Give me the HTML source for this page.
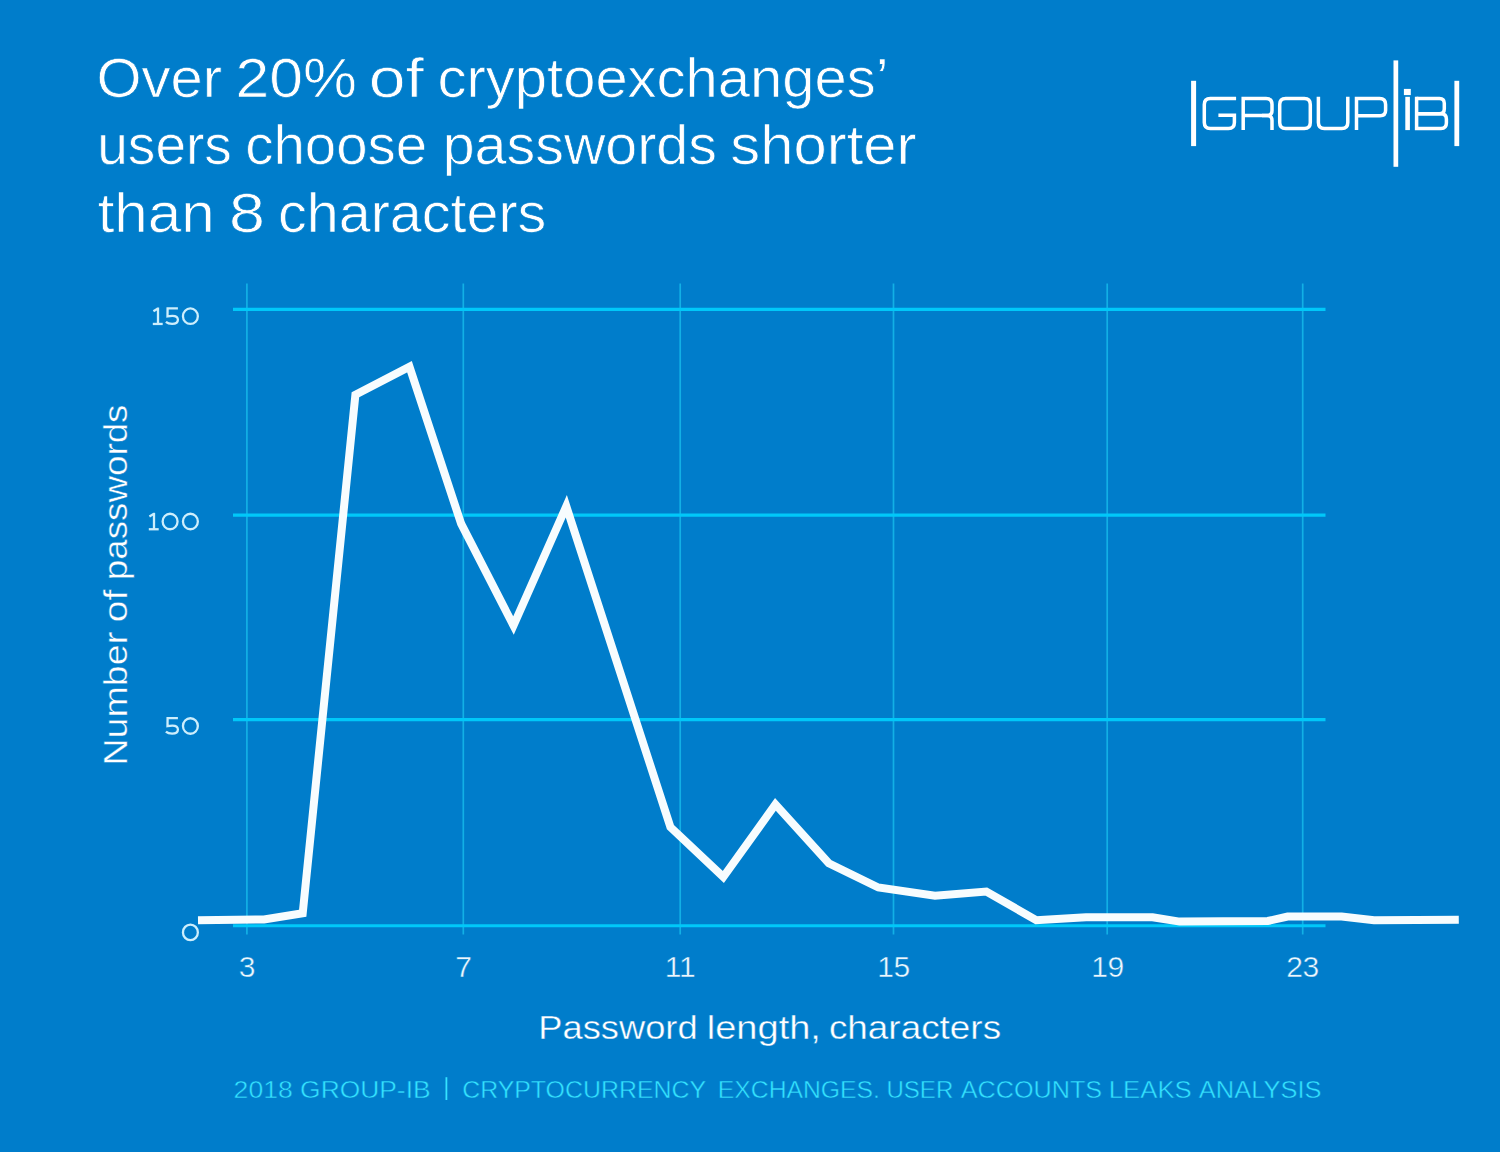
<!DOCTYPE html>
<html>
<head>
<meta charset="utf-8">
<title>Password length chart</title>
<style>
html,body{margin:0;padding:0;background:#007dcb;}
body{width:1500px;height:1152px;overflow:hidden;font-family:"Liberation Sans",sans-serif;}
svg{display:block;position:absolute;left:0;top:0;}
text{font-family:"Liberation Sans",sans-serif;}
</style>
</head>
<body>
<svg width="1500" height="1152" viewBox="0 0 1500 1152">
<rect x="0" y="0" width="1500" height="1152" fill="#007dcb"/>

<!-- TITLE -->
<g id="title" fill="#ffffff" font-size="55" stroke="#007dcb" stroke-width="0.7">
<text x="96.54" y="96.94999999999999" textLength="125.54" lengthAdjust="spacingAndGlyphs">Over</text>
<text x="235.44" y="96.94999999999999" textLength="121.41" lengthAdjust="spacingAndGlyphs">20%</text>
<text x="368.85" y="96.94999999999999" textLength="55.04" lengthAdjust="spacingAndGlyphs">of</text>
<text x="437.54" y="96.94999999999999" textLength="451.1" lengthAdjust="spacingAndGlyphs">cryptoexchanges’</text>
<text x="97.25" y="163.85" textLength="134.6" lengthAdjust="spacingAndGlyphs">users</text>
<text x="245.2" y="163.85" textLength="181.98" lengthAdjust="spacingAndGlyphs">choose</text>
<text x="442.72" y="163.85" textLength="274.19" lengthAdjust="spacingAndGlyphs">passwords</text>
<text x="730.36" y="163.85" textLength="186.13" lengthAdjust="spacingAndGlyphs">shorter</text>
<text x="97.65" y="231.65" textLength="117.13" lengthAdjust="spacingAndGlyphs">than</text>
<text x="229.1" y="231.65" textLength="35.91" lengthAdjust="spacingAndGlyphs">8</text>
<text x="277.96" y="231.65" textLength="268.36" lengthAdjust="spacingAndGlyphs">characters</text>
</g>

<!-- LOGO -->
<g id="logo">
<g fill="#ffffff">
<rect x="1191.1" y="80.8" width="5" height="65.3"/>
<rect x="1393.5" y="60.4" width="4.7" height="106.4"/>
<rect x="1454.4" y="80.8" width="4.8" height="65.3"/>
<rect x="1405.3" y="96.8" width="4.6" height="33.3"/>
<rect x="1403.9" y="88.9" width="6.9" height="6.2"/>
</g>
<g fill="none" stroke="#ffffff" stroke-width="3.5" stroke-linejoin="miter">
<path d="M1236.1,98.5 H1210.3 Q1204.3,98.5 1204.3,104.5 V122.4 Q1204.3,128.4 1210.3,128.4 H1228.4 Q1234.4,128.4 1234.4,122.4 V115.2 H1218.4"/>
<path d="M1243.2,130.1 V98.5 H1266 Q1272,98.5 1272,104.5 V110.6 Q1272,115.6 1267,115.6 H1243.2"/>
<path d="M1262,115.6 H1267 Q1272,115.6 1272,120.6 V130.1"/>
<path d="M1285.7,98.5 H1304.3 Q1310.3,98.5 1310.3,104.5 V122.4 Q1310.3,128.4 1304.3,128.4 H1285.7 Q1279.7,128.4 1279.7,122.4 V104.5 Q1279.7,98.5 1285.7,98.5 Z"/>
<path d="M1318.4,96.8 V122.4 Q1318.4,128.4 1324.4,128.4 H1341.8 Q1347.8,128.4 1347.8,122.4 V96.8"/>
<path d="M1356.5,130.1 V98.5 H1379.6 Q1385.6,98.5 1385.6,104.5 V110.2 Q1385.6,115.7 1380.1,115.7 H1356.5"/>
<path d="M1416.6,98.5 H1439.5 Q1444.3,98.5 1444.3,103.3 V108.9 Q1444.3,113.7 1439.5,113.7 H1416.6"/>
<path d="M1416.6,113.7 H1441 Q1446.4,113.7 1446.4,119.1 V123 Q1446.4,128.4 1441,128.4 H1416.6 V96.75"/>
</g>
</g>

<!-- GRID -->
<g id="grid">
<g stroke="#12b0e5" stroke-width="1.7">
<line x1="246.9" y1="283.4" x2="246.9" y2="934.6"/>
<line x1="463.3" y1="283.4" x2="463.3" y2="934.6"/>
<line x1="680.2" y1="283.4" x2="680.2" y2="934.6"/>
<line x1="893.5" y1="283.4" x2="893.5" y2="934.6"/>
<line x1="1107.2" y1="283.4" x2="1107.2" y2="934.6"/>
<line x1="1302.7" y1="283.4" x2="1302.7" y2="934.6"/>
</g>
<g stroke="#00c8f9" stroke-width="3.1">
<line x1="233" y1="309.4" x2="1325.5" y2="309.4"/>
<line x1="233" y1="515.1" x2="1325.5" y2="515.1"/>
<line x1="233" y1="719.6" x2="1325.5" y2="719.6"/>
<line x1="233" y1="925.8" x2="1325.5" y2="925.8"/>
</g>
</g>

<!-- DATA LINE -->
<polyline id="data" fill="none" stroke="#f7fcfe" stroke-width="8" stroke-linejoin="miter" stroke-miterlimit="10"
points="198,920.2 264,919.4 302.7,913.3 355.4,394.8 409.5,366.7 461.1,523.7 513.5,625.6 566.3,506.3 670.4,827.1 723.3,877 775.4,804.4 828.8,863.3 878.3,887.5 935,895.8 986.3,891.6 1036.3,920.2 1086,917.3 1152.6,917.3 1179.6,921.6 1267.8,921 1287.6,916.6 1341.6,916.6 1374,920.3 1458.8,919.7"/>

<!-- Y TICK LABELS -->
<defs>
<g id="d0"><ellipse cx="8.5" cy="8.8" rx="7.45" ry="7.75"/></g>
<g id="d1"><path d="M5.2,0.1 V16.55"/><path d="M0.6,3.9 L4.8,1.3"/><path d="M0,16.55 H9.9"/></g>
<g id="d5"><path d="M12.3,1.0 H2.0 L1.9,8.9 C3.6,8.5 5.1,8.4 6.8,8.4 C10.2,8.4 12.3,10.1 12.3,12.4 C12.3,14.9 10,16.5 6.5,16.5 C3.8,16.5 1.7,15.7 0.3,14.4"/></g>
</defs>
<g id="yticks" fill="none" stroke="#cdeefc" stroke-width="2.3">
<use href="#d1" x="152.8" y="307.4"/><use href="#d5" x="165.6" y="307.4"/><use href="#d0" x="181.9" y="307.4"/>
<use href="#d1" x="148.8" y="512.7"/><use href="#d0" x="161.6" y="512.7"/><use href="#d0" x="181.9" y="512.7"/>
<use href="#d5" x="165.6" y="717.2"/><use href="#d0" x="181.9" y="717.2"/>
<use href="#d0" x="181.9" y="923.6"/>
</g>

<!-- X TICK LABELS -->
<g id="xticks" fill="#ecf8fe" font-size="30" text-anchor="middle" stroke="#007dcb" stroke-width="0.45" letter-spacing="-0.4">
<text x="246.8" y="976.8">3</text>
<text x="463.3" y="976.8">7</text>
<text x="680" y="976.8">11</text>
<text x="893.5" y="976.8">15</text>
<text x="1107.5" y="976.8">19</text>
<text x="1302.5" y="976.8">23</text>
</g>

<!-- AXIS TITLES -->
<g id="xtitle" fill="#ffffff" font-size="34" stroke="#007dcb" stroke-width="0.4">
<text x="538.26" y="1038.7" textLength="159.37" lengthAdjust="spacingAndGlyphs">Password</text>
<text x="706.76" y="1038.7" textLength="114.17" lengthAdjust="spacingAndGlyphs">length,</text>
<text x="828.92" y="1038.7" textLength="172.17" lengthAdjust="spacingAndGlyphs">characters</text>
</g>
<g id="ytitle" fill="#ffffff" font-size="34" stroke="#007dcb" stroke-width="0.4" transform="translate(127.1,770) rotate(-90)">
<text x="4.49" y="0.2" textLength="133.67" lengthAdjust="spacingAndGlyphs">Number</text>
<text x="147.44" y="0.2" textLength="33.02" lengthAdjust="spacingAndGlyphs">of</text>
<text x="189.84" y="0.2" textLength="175.64" lengthAdjust="spacingAndGlyphs">passwords</text>
</g>

<!-- FOOTER -->
<g id="footer" fill="#34e2ff" font-size="24.8" stroke="#007dcb" stroke-width="0.45">
<text x="233.6" y="1097.5249999999999" textLength="59.17" lengthAdjust="spacingAndGlyphs">2018</text>
<text x="300.11" y="1097.5249999999999" textLength="130.49" lengthAdjust="spacingAndGlyphs">GROUP-IB</text>
<text x="462.17" y="1097.5249999999999" textLength="243.9" lengthAdjust="spacingAndGlyphs">CRYPTOCURRENCY</text>
<text x="717.78" y="1097.5249999999999" textLength="162.23" lengthAdjust="spacingAndGlyphs">EXCHANGES.</text>
<text x="886.4" y="1097.5249999999999" textLength="66.9" lengthAdjust="spacingAndGlyphs">USER</text>
<text x="960.77" y="1097.5249999999999" textLength="141.4" lengthAdjust="spacingAndGlyphs">ACCOUNTS</text>
<text x="1108.7" y="1097.5249999999999" textLength="83.09" lengthAdjust="spacingAndGlyphs">LEAKS</text>
<text x="1198.78" y="1097.5249999999999" textLength="122.7" lengthAdjust="spacingAndGlyphs">ANALYSIS</text>
<rect x="445.5" y="1077.2" width="1.8" height="22.8" stroke="none"/>
</g>

</svg>
</body>
</html>
